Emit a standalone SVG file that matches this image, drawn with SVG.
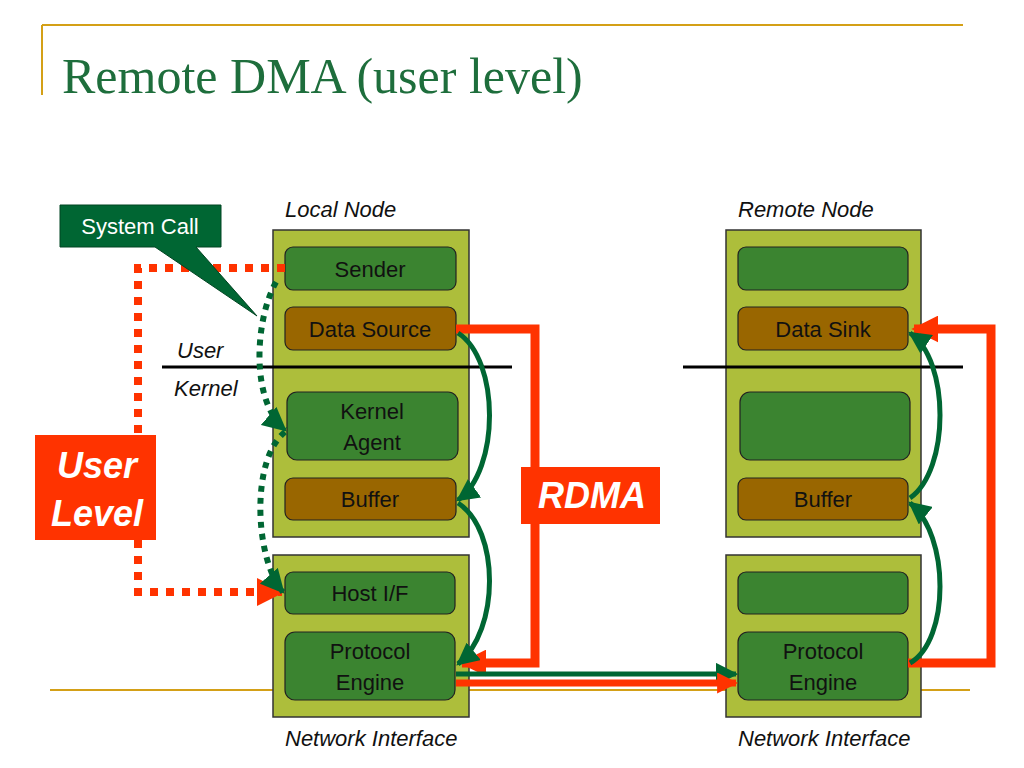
<svg xmlns="http://www.w3.org/2000/svg" width="1024" height="768" viewBox="0 0 1024 768">
<style>
.frame{fill:#adbe3b;stroke:#333;stroke-width:1.5}
.g{fill:#3b8430;stroke:#222;stroke-width:1.2}
.b{fill:#996600;stroke:#222;stroke-width:1.2}
.t{font-family:"Liberation Sans",Arial,sans-serif;font-size:22px;fill:#111;text-anchor:middle}
.i{font-family:"Liberation Sans",Arial,sans-serif;font-size:22px;font-style:italic;fill:#111}
.gc{fill:none;stroke:#006633;stroke-width:5}
.oc{fill:none;stroke:#ff3300;stroke-width:9}
</style>
<defs>
<marker id="ag" viewBox="0 0 10 10" refX="9" refY="5" markerWidth="4.5" markerHeight="4.5" orient="auto" markerUnits="strokeWidth"><path d="M0,0L10,5L0,10z" fill="#006633"/></marker>
<marker id="ao" viewBox="0 0 10 10" refX="9" refY="5" markerWidth="3" markerHeight="3" orient="auto" markerUnits="strokeWidth"><path d="M0,0L10,5L0,10z" fill="#ff3300"/></marker>
<marker id="agd" viewBox="0 0 10 10" refX="9" refY="5" markerWidth="4" markerHeight="4" orient="auto" markerUnits="strokeWidth"><path d="M0,0L10,5L0,10z" fill="#006633"/></marker>
<marker id="aod" viewBox="0 0 10 10" refX="9" refY="5" markerWidth="3.5" markerHeight="3.5" orient="auto" markerUnits="strokeWidth"><path d="M0,0L10,5L0,10z" fill="#ff3300"/></marker>
</defs>
<rect width="1024" height="768" fill="#fff"/>
<g id="decor" stroke="#d4a017" stroke-width="2">
<line x1="42" y1="25" x2="963" y2="25"/>
<line x1="42" y1="25" x2="42" y2="95"/>
<line x1="50" y1="690" x2="970" y2="690"/>
</g>
<text x="62" y="93" font-family="Liberation Serif,serif" font-size="50" fill="#1e6e3c">Remote DMA (user level)</text>
<g id="frames">
<rect class="frame" x="273" y="230" width="196" height="307"/>
<rect class="frame" x="273" y="555" width="196" height="162"/>
<rect class="frame" x="726" y="230" width="195" height="307"/>
<rect class="frame" x="726" y="555" width="195" height="162"/>
</g>
<g id="labels">
<text class="i" x="285" y="217">Local Node</text>
<text class="i" x="738" y="217">Remote Node</text>
<text class="i" x="285" y="746">Network Interface</text>
<text class="i" x="738" y="746">Network Interface</text>
<text class="i" x="177" y="358">User</text>
<text class="i" x="174" y="396">Kernel</text>
</g>
<g id="divider" stroke="#000" stroke-width="3">
<line x1="162" y1="367" x2="512" y2="367"/>
<line x1="683" y1="367" x2="963" y2="367"/>
</g>
<g id="sender"><rect class="g" x="285" y="247" width="171" height="43" rx="8"/><text class="t" x="370" y="277">Sender</text></g>
<g id="datasource"><rect class="b" x="285" y="307" width="171" height="43" rx="8"/><text class="t" x="370" y="337">Data Source</text></g>
<g id="kernelagent"><rect class="g" x="287" y="392" width="171" height="68" rx="10"/><text class="t" x="372" y="419">Kernel</text><text class="t" x="372" y="450">Agent</text></g>
<g id="buffer-l"><rect class="b" x="285" y="478" width="171" height="42" rx="8"/><text class="t" x="370" y="507">Buffer</text></g>
<g id="hostif"><rect class="g" x="285" y="572" width="170" height="42" rx="8"/><text class="t" x="370" y="601">Host I/F</text></g>
<g id="pe-l"><rect class="g" x="285" y="632" width="170" height="68" rx="10"/><text class="t" x="370" y="659">Protocol</text><text class="t" x="370" y="690">Engine</text></g>
<g id="r-top"><rect class="g" x="738" y="247" width="170" height="43" rx="8"/></g>
<g id="datasink"><rect class="b" x="738" y="307" width="170" height="43" rx="8"/><text class="t" x="823" y="337">Data Sink</text></g>
<g id="r-kernel"><rect class="g" x="740" y="392" width="170" height="68" rx="10"/></g>
<g id="buffer-r"><rect class="b" x="738" y="478" width="170" height="42" rx="8"/><text class="t" x="823" y="507">Buffer</text></g>
<g id="r-host"><rect class="g" x="738" y="572" width="170" height="42" rx="8"/></g>
<g id="pe-r"><rect class="g" x="738" y="632" width="170" height="68" rx="10"/><text class="t" x="823" y="659">Protocol</text><text class="t" x="823" y="690">Engine</text></g>
<g id="connectors">
<path class="oc" d="M456,329H535V663H462" marker-end="url(#ao)"/>
<path class="oc" d="M908,663H991V329H914" marker-end="url(#ao)"/>
<path class="gc" d="M456,674H736" marker-end="url(#ag)"/>
<path d="M456,683H736" fill="none" stroke="#ff3300" stroke-width="7" marker-end="url(#ao)"/>
<path class="gc" d="M458,333C500,360 500,470 458,500" marker-end="url(#ag)"/>
<path class="gc" d="M458,503C500,530 500,630 458,664" marker-end="url(#ag)"/>
<path class="gc" d="M910,663C950,640 950,535 910,503" marker-end="url(#ag)"/>
<path class="gc" d="M910,498C950,470 950,360 910,333" marker-end="url(#ag)"/>
<path d="M285,268H138V435M138,540V592H282" fill="none" stroke="#ff3300" stroke-width="8" stroke-dasharray="8,8" marker-end="url(#aod)"/>
<path d="M276,282C255,320 250,400 285,430" fill="none" stroke="#006633" stroke-width="6" stroke-dasharray="6,6" marker-end="url(#agd)"/>
<path d="M285,432C250,460 255,560 283,592" fill="none" stroke="#006633" stroke-width="6" stroke-dasharray="6,6" marker-end="url(#agd)"/>
</g>
<g id="systemcall">
<path d="M60,205H221V247H196L257,316L155,247H60Z" fill="#006633" stroke="#004422" stroke-width="1"/>
<text x="140" y="234" font-family="Liberation Sans,Arial,sans-serif" font-size="22" fill="#fff" text-anchor="middle">System Call</text>
</g>
<g id="userlevel"><rect x="35" y="435" width="121" height="105" fill="#ff3300"/><text x="97" y="478" font-family="Liberation Sans,Arial,sans-serif" font-size="36" font-weight="bold" font-style="italic" fill="#fff" text-anchor="middle">User</text><text x="97" y="526" font-family="Liberation Sans,Arial,sans-serif" font-size="36" font-weight="bold" font-style="italic" fill="#fff" text-anchor="middle">Level</text></g>
<g id="rdma"><rect x="521" y="467" width="139" height="57" fill="#ff3300"/><text x="592" y="508" font-family="Liberation Sans,Arial,sans-serif" font-size="36" font-weight="bold" font-style="italic" fill="#fff" text-anchor="middle">RDMA</text></g>
</svg>
